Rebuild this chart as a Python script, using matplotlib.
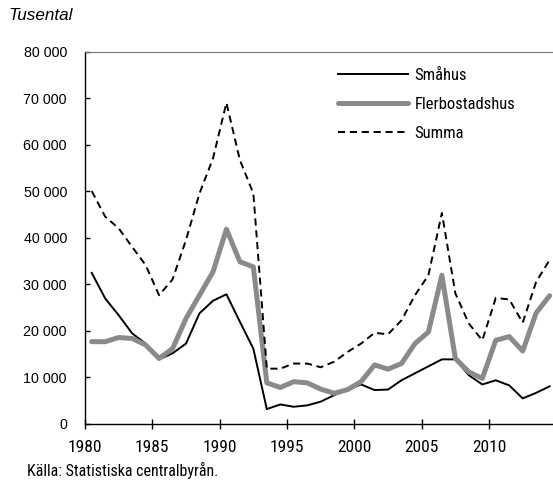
import matplotlib
matplotlib.use("Agg")
import matplotlib.pyplot as plt
from matplotlib.ticker import FuncFormatter

# Bostadsbyggande, tusental lägenheter, 1980-2014
years = list(range(1980, 2015))
smahus = [32.4, 26.9, 23.3, 19.4, 17.2, 13.8, 15.1, 17.2, 23.7, 26.4,
          27.8, 21.9, 16.1, 3.1, 4.1, 3.6, 3.9, 4.7, 6.1, 7.3,
          8.4, 7.2, 7.3, 9.3, 10.8, 12.3, 13.8, 13.8, 10.4, 8.4,
          9.3, 8.2, 5.4, 6.6, 8.0]
flerbostadshus = [17.6, 17.6, 18.5, 18.3, 16.9, 14.0, 16.1, 22.6, 27.6, 32.6,
                  41.8, 34.8, 33.7, 8.75, 7.75, 9.0, 8.75, 7.4, 6.5, 7.3,
                  9.0, 12.6, 11.7, 12.9, 17.2, 19.7, 31.9, 14.0, 11.1, 9.7,
                  17.9, 18.7, 15.6, 23.8, 27.5]
summa = [50.0, 44.5, 42.0, 38.0, 34.1, 27.6, 31.0, 39.5, 49.5, 57.0,
         69.0, 56.7, 49.5, 11.8, 11.8, 12.9, 12.9, 12.1, 13.3, 15.4,
         17.2, 19.5, 19.2, 22.2, 27.6, 31.9, 45.3, 28.0, 21.5, 17.9,
         27.0, 26.7, 21.7, 30.5, 35.2]
labels = ["Småhus", "Flerbostadshus", "Summa"]

NARROW = ["Roboto Condensed", "DejaVu Sans"]
REG = ["Liberation Sans", "DejaVu Sans"]

fig = plt.figure(figsize=(5.53, 4.8), dpi=100)
ax = fig.add_axes([85 / 553, 1 - 423.5 / 480, 1 - 85 / 553, (423.5 - 51.7) / 480])

# points sit in the middle of each year (category axis style)
xs = [y + 0.5 for y in years]
ax.plot(xs, [v * 1000 for v in smahus], color="black", lw=1.4, label=labels[0])
ax.plot(xs, [v * 1000 for v in flerbostadshus], color="#8a8a8a", lw=3.6,
        solid_capstyle="round", label=labels[1])
ax.plot(xs, [v * 1000 for v in summa], color="black", lw=1.4,
        dashes=(3.7, 2.4), label=labels[2])

ax.set_xlim(1980, 2014.75)
ax.set_ylim(0, 80000)
ax.set_xticks(range(1980, 2015, 5))
ax.set_yticks(range(0, 80001, 10000))
ax.yaxis.set_major_formatter(FuncFormatter(lambda v, p: f"{int(v):,}".replace(",", " ")))

ax.spines["right"].set_visible(False)
ax.spines["top"].set_color("#777777")
ax.spines["left"].set_linewidth(1.0)
ax.spines["bottom"].set_linewidth(1.0)
ax.tick_params(axis="x", direction="inout", length=6.5, width=1, pad=8.5)
ax.tick_params(axis="y", direction="in", length=3.6, width=1, pad=13)

for t in ax.get_xticklabels():
    t.set_family(NARROW)
    t.set_fontsize(12.5)
for t in ax.get_yticklabels():
    t.set_family(REG)
    t.set_fontsize(10.3)

leg = ax.legend(loc="upper left", bbox_to_anchor=(338 / 553, 1 - 68 / 480),
                bbox_transform=fig.transFigure, frameon=False, borderpad=0,
                borderaxespad=0, handlelength=4.2, handletextpad=0.4,
                labelspacing=0.85, prop={"family": NARROW, "size": 12})

fig.text(8 / 553, 1 - 16 / 480, "Tusental", family=REG, style="italic",
         fontsize=12.3, va="center", ha="left")
fig.text(27 / 553, 1 - 470 / 480, "Källa: Statistiska centralbyrån.", family=NARROW,
         fontsize=11.5, va="center", ha="left")

fig.savefig("out.png", dpi=100)
